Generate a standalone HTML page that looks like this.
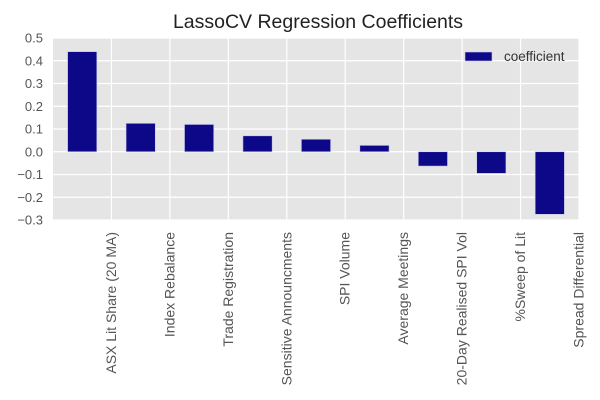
<!DOCTYPE html>
<html><head><meta charset="utf-8"><style>
body{margin:0;background:#fff;}
svg{display:block;font-family:"Liberation Sans",Arial,sans-serif;}
</style></head><body>
<svg id="chart" width="600" height="400"></svg>
<script>
const categories=["ASX Lit Share (20 MA)","Index Rebalance","Trade Registration","Sensitive Announcments","SPI Volume","Average Meetings","20-Day Realised SPI Vol","%Sweep of Lit","Spread Differential"];
const values=[0.44,0.125,0.12,0.07,0.055,0.028,-0.063,-0.095,-0.275];
const yTicks=[0.5,0.4,0.3,0.2,0.1,0.0,-0.1,-0.2,-0.3];
const yTickLabels=["0.5","0.4","0.3","0.2","0.1","0.0","\u22120.1","\u22120.2","\u22120.3"];
const NS="http://www.w3.org/2000/svg";
const svg=document.getElementById('chart');
const L=53,R=579,T=38,B=220,yMin=-0.3,yMax=0.5;
const slot=(R-L)/categories.length;
function y(v){return T+(yMax-v)/(yMax-yMin)*(B-T);}
function xc(i){return L+slot*(i+0.5);}
function mk(tag,attrs){const e=document.createElementNS(NS,tag);for(const k in attrs)e.setAttribute(k,attrs[k]);svg.appendChild(e);return e;}
const bg=mk('rect',{x:L,y:T,width:R-L,height:B-T,fill:'#e5e5e5'});


yTicks.forEach((t,i)=>{
 const g=mk('line',{x1:L,x2:R,y1:y(t),y2:y(t),stroke:'#fff','stroke-width':1.2});
 
 
 const tx=mk('text',{x:L-10,y:y(t)+4.5,'text-anchor':'end','font-size':13,fill:'#555'});
 tx.textContent=yTickLabels[i];
 
 
});
categories.forEach((c,i)=>{
 const tx0=xc(i)+slot/2;
 const g=mk('line',{x1:tx0,x2:tx0,y1:T,y2:B,stroke:'#fff','stroke-width':1.2});
 
 
});
values.forEach((v,i)=>{
 const w=slot*0.5;
 const top=Math.min(y(v),y(0)),h=Math.abs(y(v)-y(0));
 const b=mk('rect',{x:xc(i)-w/2,y:top,width:w,height:h,fill:'#0d0887',stroke:'#c8c8e8','stroke-width':0.6});
 
 
});
categories.forEach((c,i)=>{
 const tx0=xc(i)+slot/2+4.5;
 const tx=mk('text',{x:0,y:0,'text-anchor':'end','font-size':14,fill:'#555',transform:`translate(${tx0},232) rotate(-90)`});
 tx.textContent=c;
 
 
});
const title=mk('text',{x:318,y:28,'text-anchor':'middle','font-size':19.5,fill:'#222'});
title.textContent='LassoCV Regression Coefficients';


const lp=mk('rect',{x:465,y:52,width:27,height:9,fill:'#0d0887',stroke:'#c8c8e8','stroke-width':0.6});


const lt=mk('text',{x:504,y:61,'font-size':13.5,fill:'#333'});
lt.textContent='coefficient';


</script>
</body></html>
